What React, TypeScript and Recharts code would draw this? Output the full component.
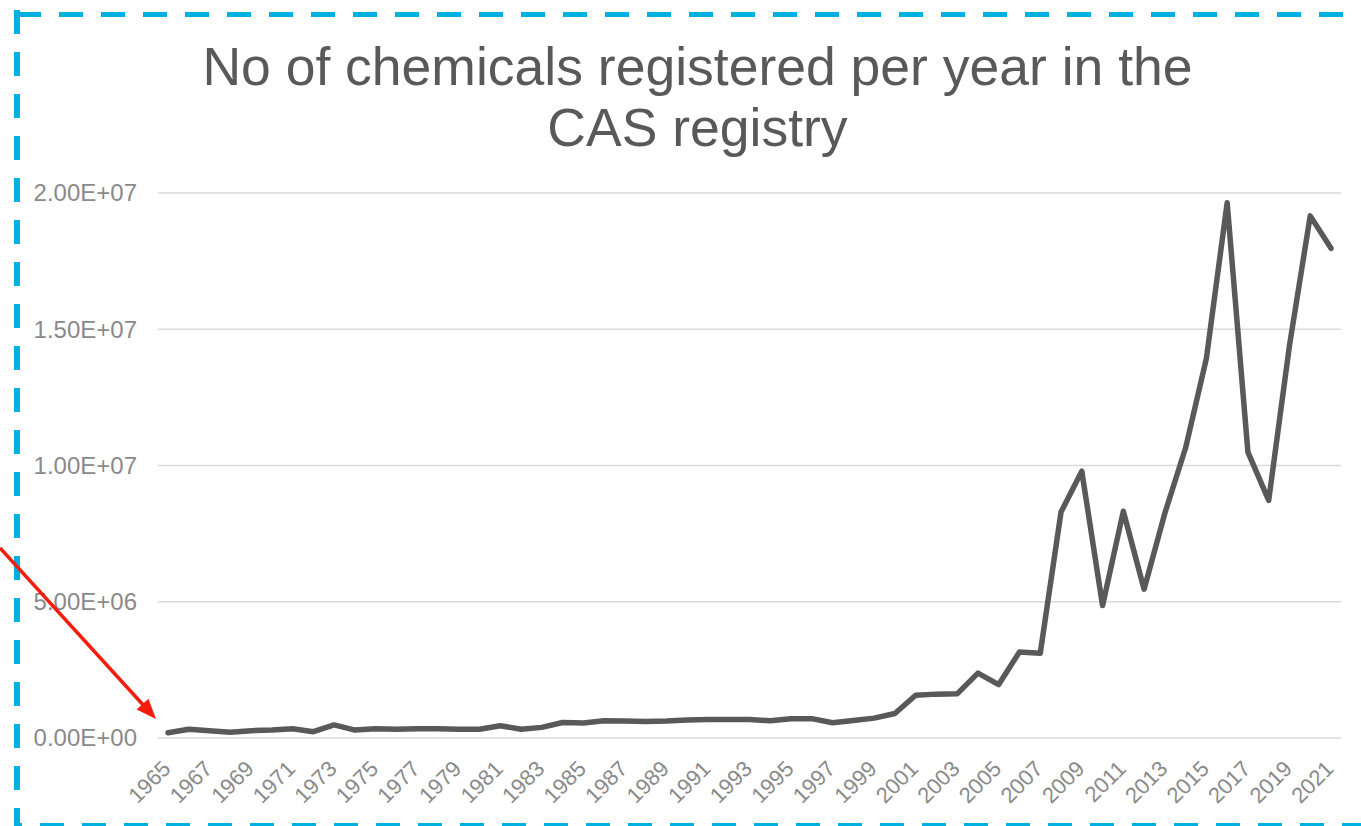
import React from 'react';
import { CartesianGrid, Line, LineChart, XAxis, YAxis } from 'recharts';

const years = [
	'1965', '1966', '1967', '1968', '1969', '1970', '1971', '1972', '1973', '1974',
	'1975', '1976', '1977', '1978', '1979', '1980', '1981', '1982', '1983', '1984',
	'1985', '1986', '1987', '1988', '1989', '1990', '1991', '1992', '1993', '1994',
	'1995', '1996', '1997', '1998', '1999', '2000', '2001', '2002', '2003', '2004',
	'2005', '2006', '2007', '2008', '2009', '2010', '2011', '2012', '2013', '2014',
	'2015', '2016', '2017', '2018', '2019', '2020', '2021',
];

// chemicals registered per year
const registered = [
	190000, 320000, 270000, 210000, 270000, 290000, 340000, 230000, 480000, 290000,
	340000, 320000, 340000, 340000, 320000, 320000, 450000, 320000, 390000, 570000,
	550000, 630000, 620000, 610000, 620000, 660000, 680000, 680000, 680000, 630000,
	710000, 710000, 560000, 640000, 730000, 900000, 1570000, 1610000, 1620000, 2380000,
	1960000, 3160000, 3110000, 8290000, 9790000, 4860000, 8320000, 5460000, 8250000, 10650000,
	13930000, 19640000, 10490000, 8720000, 14400000, 19160000, 17970000,
];

const yTicks = [0, 5000000, 10000000, 15000000, 20000000];
const titleLines = ['No of chemicals registered per year in the', 'CAS registry'];

const data = years.map((year, idx) => ({ year, value: registered[idx] }));

const W = 1361;
const H = 826;
const font = '"Liberation Sans", Arial, sans-serif';
const labelColor = '#8a8a8a';

const sci = (v: number) => {
	const [m, e] = v.toExponential(2).split('e');
	const sign = e[0] === '-' ? '-' : '+';
	const digits = e.replace(/[+-]/, '').padStart(2, '0');
	return `${m}E${sign}${digits}`;
};

const YearTick = (props: any) => {
	const { x, y, payload } = props;
	return (
		<g transform={`translate(${x + 4},${y + 32})`}>
			<text x={0} y={0} textAnchor="end" transform="rotate(-45)"
			      fontSize={22} fill={labelColor} fontFamily={font}>
				{payload.value}
			</text>
		</g>
	);
};

const ValueTick = (props: any) => {
	const { y, payload } = props;
	return (
		<text x={137} y={y} dy="0.35em" textAnchor="end" fontSize={24} fill={labelColor} fontFamily={font}>
			{sci(payload.value)}
		</text>
	);
};

// red annotation arrow pointing at the first year
const arrowFrom = [0, 548];
const arrowTip = [156, 719];
const arrowHead = () => {
	const dx = arrowTip[0] - arrowFrom[0];
	const dy = arrowTip[1] - arrowFrom[1];
	const len = Math.sqrt(dx * dx + dy * dy);
	const ux = dx / len, uy = dy / len;
	const bx = arrowTip[0] - ux * 20, by = arrowTip[1] - uy * 20;
	const px = -uy * 8, py = ux * 8;
	return {
		line: [arrowFrom[0], arrowFrom[1], bx + ux * 2, by + uy * 2],
		points: `${arrowTip[0]},${arrowTip[1]} ${bx + px},${by + py} ${bx - px},${by - py}`,
	};
};

export default function App() {
	const head = arrowHead();
	return (
		<div style={{ position: 'fixed', left: 0, top: 0, width: W, height: H, background: '#fff', overflow: 'hidden' }}>
			<LineChart width={W} height={H} data={data} margin={{ top: 193, right: 20, bottom: 0, left: 0 }}>
				<CartesianGrid vertical={false} stroke="#d9d9d9" strokeWidth={1.5} />
				<XAxis dataKey="year" height={88} interval={1} axisLine={false} tickLine={false}
				       tickSize={0} tickMargin={0} padding={{ left: 10, right: 10 }} tick={<YearTick />} />
				<YAxis width={158} domain={[0, 20000000]} ticks={yTicks} axisLine={false} tickLine={false}
				       tick={<ValueTick />} />
				<Line type="linear" dataKey="value" stroke="#595959" strokeWidth={5.5} dot={false}
				      strokeLinejoin="round" strokeLinecap="round" isAnimationActive={false} />
			</LineChart>
			<svg width={W} height={H} style={{ position: 'absolute', left: 0, top: 0, pointerEvents: 'none' }}>
				{titleLines.map((t, i) => (
					<text key={t} x={697.5} y={85 + i * 61} textAnchor="middle" fontSize={53.5}
					      fill="#595959" fontFamily={font}>{t}</text>
				))}
				<line x1={17} y1={14.5} x2={W} y2={14.5} stroke="#00b0e0" strokeWidth={5} strokeDasharray="24 18" />
				<line x1={17} y1={10} x2={17} y2={H} stroke="#00b0e0" strokeWidth={6} strokeDasharray="24 18" />
				<line x1={17} y1={825} x2={W} y2={825} stroke="#00b0e0" strokeWidth={4} strokeDasharray="24 18"
				      strokeDashoffset={19} />
				<line x1={head.line[0]} y1={head.line[1]} x2={head.line[2]} y2={head.line[3]}
				      stroke="#f41c0c" strokeWidth={3.5} />
				<polygon points={head.points} fill="#f41c0c" />
			</svg>
		</div>
	);
}
